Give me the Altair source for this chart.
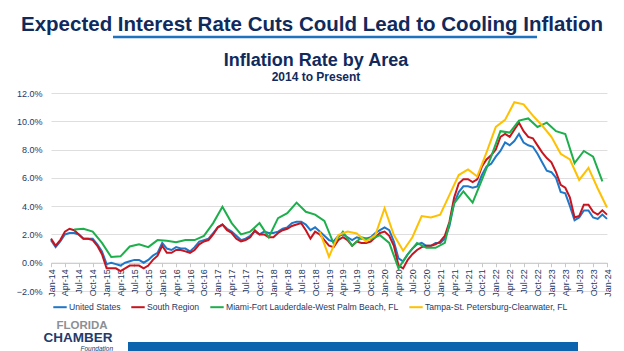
import altair as alt
import pandas as pd

# ---------------- data ----------------
us = [1.6, 1.1, 1.5, 2.0, 2.1, 2.1, 2.0, 1.7, 1.7, 1.7, 1.3, 0.8,
      -0.1, 0.0, -0.1, -0.2, 0.0, 0.1, 0.2, 0.2, 0.0, 0.2, 0.5, 0.7,
      1.4, 1.0, 0.9, 1.1, 1.0, 1.0, 0.8, 1.1, 1.5, 1.6, 1.7, 2.1,
      2.5, 2.7, 2.4, 2.2, 1.9, 1.6, 1.7, 1.9, 2.2, 2.0, 2.2, 2.1,
      2.1, 2.2, 2.4, 2.5, 2.8, 2.9, 2.9, 2.7, 2.3, 2.5, 2.2, 1.9,
      1.6, 1.5, 1.9, 2.0, 1.8, 1.6, 1.8, 1.7, 1.7, 1.8, 2.1, 2.3,
      2.5, 2.3, 1.5, 0.3, 0.1, 0.6, 1.0, 1.3, 1.4, 1.2, 1.2, 1.4,
      1.4, 1.7, 2.6, 4.2, 5.0, 5.4, 5.4, 5.3, 5.4, 6.2, 6.8, 7.0,
      7.5, 7.9, 8.5, 8.3, 8.6, 9.1, 8.5, 8.3, 8.2, 7.7, 7.1, 6.5,
      6.4, 6.0, 5.0, 4.9, 4.0, 3.0, 3.2, 3.7, 3.7, 3.2, 3.1, 3.4,
      3.1]

south = [1.7, 1.2, 1.6, 2.2, 2.4, 2.3, 2.0, 1.7, 1.7, 1.6, 1.2, 0.6,
         -0.4, -0.4, -0.4, -0.6, -0.4, -0.2, -0.2, -0.2, -0.4, -0.2, 0.2, 0.5,
         1.2, 0.7, 0.7, 0.9, 0.9, 0.8, 0.7, 0.9, 1.3, 1.5, 1.6, 2.0,
         2.5, 2.7, 2.3, 2.1, 1.7, 1.5, 1.6, 1.8, 2.3, 2.0, 2.0, 1.8,
         1.8, 2.1, 2.3, 2.4, 2.6, 2.7, 2.8, 2.3, 1.7, 2.2, 2.0, 1.6,
         1.2, 1.1, 1.6, 1.8, 1.6, 1.2, 1.5, 1.4, 1.4, 1.5, 1.8, 2.1,
         2.2, 1.9, 1.2, -0.2, -0.4, 0.2, 0.6, 0.9, 1.1, 1.2, 1.2, 1.3,
         1.5, 1.9, 2.9, 4.6, 5.6, 5.9, 5.9, 5.7, 5.9, 6.8, 7.3, 7.6,
         8.0, 8.9, 9.1, 8.9, 9.4, 9.9, 9.3, 8.9, 8.8, 8.3, 7.8, 7.4,
         7.1, 6.4, 5.5, 5.3, 4.6, 3.2, 3.3, 4.1, 4.1, 3.6, 3.4, 3.7,
         3.4]

# Miami: bimonthly, Jun-14 .. Dec-23 (month index 5, 7, ..., 119)
miami_months = list(range(5, 120, 2))
miami = [2.35, 2.4, 2.2, 1.4,
         0.4, 0.45, 1.15, 1.3, 1.1, 1.6,
         1.55, 1.45, 1.6, 1.6, 1.9, 2.8,
         3.95, 2.8, 2.0, 2.2, 2.8, 1.8,
         3.15, 3.5, 4.25, 3.6, 3.4, 2.95,
         1.35, 2.2, 1.2, 1.8, 1.65, 1.95,
         1.4, -0.4, 0.6, 1.4, 1.05, 1.05,
         1.4, 4.2, 5.05, 4.25, 5.85, 7.5,
         9.3, 9.2, 10.05, 10.2, 9.6, 9.9,
         9.3, 9.1, 7.05, 7.9, 7.5, 5.75]

# Tampa: bimonthly, Nov-18 .. Jan-24 (month index 58, 60, ..., 120)
tampa_months = list(range(58, 121, 2))
tampa = [2.2,
         0.42, 1.95, 2.2, 2.07, 1.5, 1.95,
         3.85, 1.95, 0.85, 1.8, 3.3, 3.2,
         3.4, 4.8, 6.2, 6.6, 6.1, 7.8,
         9.6, 10.1, 11.35, 11.2, 10.4, 9.7,
         8.9, 7.7, 7.3, 5.85, 6.7, 5.25,
         3.9]

series_names = ["United States", "South Region",
                "Miami-Fort Lauderdale-West Palm Beach, FL",
                "Tampa-St. Petersburg-Clearwater, FL"]
series_colors = ["#1f77c8", "#c8141e", "#1daf4b", "#ffc000"]

tick_values = list(range(0, 121, 3))
tick_labels = [f"{m}-{y:02d}" for y in range(14, 25) for m in ["Jan", "Apr", "Jul", "Oct"]][:41]
y_ticks = [-2, 0, 2, 4, 6, 8, 10, 12]

main_title = "Expected Interest Rate Cuts Could Lead to Cooling Inflation"
chart_title = "Inflation Rate by Area"
chart_subtitle = "2014 to Present"
logo_top = "FLORIDA"
logo_mid = "CHAMBER"
logo_bottom = "Foundation"

rows = []
for i, v in enumerate(us):
    rows.append({"series": series_names[0], "month": i, "value": v})
for i, v in enumerate(south):
    rows.append({"series": series_names[1], "month": i, "value": v})
for m, v in zip(miami_months, miami):
    rows.append({"series": series_names[2], "month": m, "value": v})
for m, v in zip(tampa_months, tampa):
    rows.append({"series": series_names[3], "month": m, "value": v})
df = pd.DataFrame(rows)

# ---------------- styling ----------------
SANS = "Liberation Sans, Arial, sans-serif"
NAVY = "#102a5c"
LABEL = "#1f3864"

W, H = 556, 198

label_js = "[" + ",".join(f"'{t}'" for t in tick_labels) + "]"

x_enc = alt.X("month:Q",
              scale=alt.Scale(domain=[0, 120], nice=False, zero=False),
              axis=alt.Axis(values=tick_values,
                            labelExpr=f"{label_js}[round(datum.value/3)]",
                            labelAngle=-90, labelFontSize=9, labelFont=SANS,
                            labelColor=LABEL, labelPadding=2,
                            offset=-(2 * H / 14), domainColor="#c8c8c8",
                            tickColor="#c8c8c8", tickSize=4, grid=False,
                            title=None, labelOverlap=False))
y_enc = alt.Y("value:Q",
              scale=alt.Scale(domain=[-2, 12], nice=False, zero=False),
              axis=alt.Axis(values=y_ticks,
                            labelExpr="format(datum.value, '.1f') + '%'",
                            grid=True, gridColor="#dedede", gridWidth=1,
                            domain=False, ticks=False, labelPadding=9,
                            labelFontSize=9, labelFont=SANS, labelColor=LABEL,
                            title=None))
color_enc = alt.Color("series:N",
                      scale=alt.Scale(domain=series_names, range=series_colors),
                      legend=alt.Legend(orient="none", legendX=1, legendY=206,
                                        direction="horizontal", columns=4,
                                        title=None, symbolType="stroke",
                                        symbolSize=180, symbolStrokeWidth=2,
                                        labelFontSize=8.6, labelFont=SANS,
                                        labelColor=LABEL, labelOffset=1,
                                        labelLimit=400, columnPadding=6))

base = alt.Chart(df).encode(x=x_enc, y=y_enc, color=color_enc)
line_layers = [base.transform_filter(alt.datum.series == n).mark_line(strokeWidth=2)
               for n in series_names]


def text_layer(txt, x, y, size, color, font=SANS, weight="bold",
               align="center", style="normal"):
    return alt.Chart(pd.DataFrame({"t": [txt]})).mark_text(
        fontSize=size, font=font, fontWeight=weight, color=color,
        align=align, baseline="alphabetic", fontStyle=style
    ).encode(x=alt.value(x), y=alt.value(y), text="t:N")


deco = [
    text_layer(main_title, 261, -62, 20.5, NAVY),
    alt.Chart(pd.DataFrame({"a": [0]})).mark_rule(color="#1f72bd", strokeWidth=2.5)
       .encode(x=alt.value(62), x2=alt.value(486), y=alt.value(-56)),
    text_layer(chart_title, 265, -27, 18, NAVY),
    text_layer(chart_subtitle, 265, -12, 12, NAVY),
    text_layer(logo_top, 31, 236, 11.5, "#8c8f94"),
    text_layer(logo_mid, 27, 248.5, 13.5, "#233a6b"),
    text_layer(logo_bottom, 62, 257.5, 6.5, "#233a6b", weight="normal",
               align="right", style="italic"),
    alt.Chart(pd.DataFrame({"a": [0]})).mark_rect(color="#0b64ad")
       .encode(x=alt.value(77), x2=alt.value(527), y=alt.value(249), y2=alt.value(260)),
]

chart = alt.layer(*line_layers, *deco).properties(
    width=W, height=H,
    padding={"left": 51, "top": 93, "right": 17, "bottom": 60},
    autosize=alt.AutoSizeParams(type="none"),
    background="white",
).configure_view(stroke=None)

chart.save("out.html", embed_options={"renderer": "svg", "actions": False})
